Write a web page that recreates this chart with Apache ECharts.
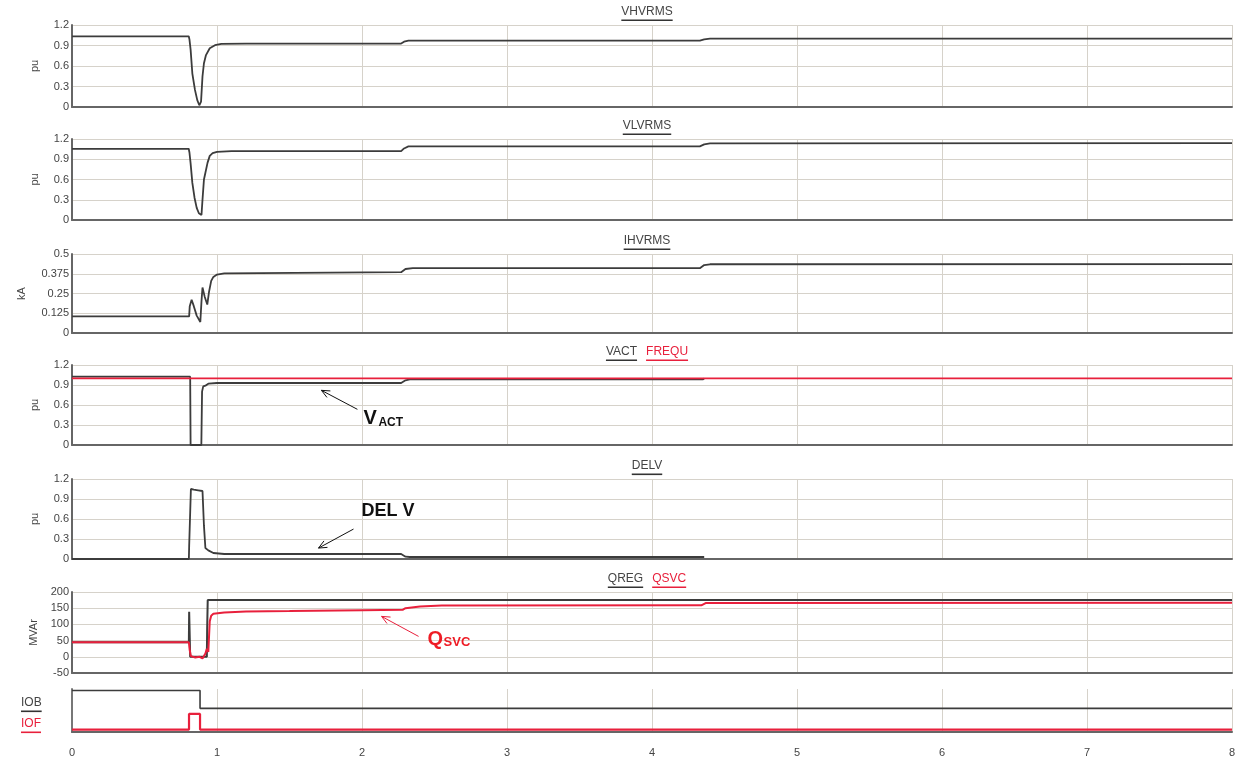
<!DOCTYPE html>
<html>
<head>
<meta charset="utf-8">
<script src="https://cdn.jsdelivr.net/npm/echarts@6/dist/echarts.min.js"></script>
<style>
  html, body { margin: 0; padding: 0; background: #ffffff; }
  #chart { width: 1239px; height: 760px; }
</style>
</head>
<body>
<div id="chart"></div>
<script>
// ---- Simulation traces: [time (s), value] ----
const VHVRMS = [[0,1.035],[0.805,1.035],[0.81,0.99],[0.818,0.84],[0.83,0.49],[0.848,0.25],[0.864,0.1],[0.878,0.025],[0.883,0.0],[0.89,0.08],[0.9,0.45],[0.91,0.64],[0.924,0.76],[0.95,0.86],[0.986,0.905],[1.03,0.925],[1.2,0.928],[2.27,0.928],[2.29,0.955],[2.32,0.97],[4.33,0.97],[4.36,0.99],[4.4,1.0],[8,1.0]];
const VLVRMS = [[0,1.055],[0.805,1.055],[0.81,1.0],[0.818,0.84],[0.83,0.55],[0.845,0.33],[0.86,0.18],[0.875,0.1],[0.885,0.08],[0.893,0.075],[0.9,0.3],[0.91,0.6],[0.92,0.7],[0.935,0.85],[0.95,0.95],[0.97,0.99],[1.0,1.01],[1.1,1.02],[2.27,1.02],[2.29,1.06],[2.32,1.09],[4.33,1.09],[4.36,1.12],[4.4,1.135],[8,1.14]];
const IHVRMS = [[0,0.105],[0.808,0.105],[0.812,0.17],[0.825,0.21],[0.84,0.17],[0.86,0.11],[0.885,0.07],[0.893,0.2],[0.9,0.288],[0.915,0.23],[0.933,0.18],[0.945,0.26],[0.96,0.33],[0.975,0.355],[1.0,0.37],[1.05,0.378],[2.27,0.385],[2.3,0.405],[2.35,0.41],[4.33,0.41],[4.36,0.43],[4.4,0.435],[8,0.436]];
const VACT = [[0,1.025],[0.815,1.025],[0.818,0],[0.892,0],[0.897,0.8],[0.905,0.88],[0.92,0.89],[0.94,0.92],[1.0,0.93],[2.27,0.93],[2.3,0.97],[2.33,0.985],[4.35,0.985],[4.36,0.995]];
const FREQU = [[0,1.0],[8,1.0]];
const DELV = [[0,0],[0.806,0],[0.808,0.19],[0.815,0.22],[0.82,1.05],[0.84,1.04],[0.87,1.03],[0.9,1.02],[0.91,0.5],[0.92,0.165],[0.94,0.13],[0.975,0.09],[1.05,0.075],[2.27,0.075],[2.3,0.035],[2.33,0.03],[4.36,0.03]];
const QREG = [[0,45],[0.806,45],[0.808,139],[0.812,60],[0.815,0],[0.93,0],[0.932,80],[0.936,175],[8,175]];
const QSVC = [[0,45],[0.806,45],[0.812,20],[0.82,2],[0.85,-2],[0.88,0],[0.9,-5],[0.91,-10],[0.92,10],[0.93,25],[0.94,15],[0.95,110],[0.96,127],[0.975,133],[1.05,137],[1.2,140],[1.5,141],[2.0,144],[2.28,145],[2.3,150],[2.4,155],[2.55,158],[4.34,159],[4.37,166],[8,167]];
const IOB = [[0,1],[0.883,1],[0.883,0],[8,0]];
const IOF = [[0,0],[0.807,0],[0.807,1],[0.883,1],[0.883,0],[8,0]];

// ---- Axis ticks ----
const TIME_TICKS = { min: 0, max: 8, step: 1 };
const PU_TICKS = { min: 0, max: 1.2, step: 0.3 };
const KA_TICKS = { min: 0, max: 0.5, step: 0.125 };
const MVAR_TICKS = { min: -50, max: 200, step: 50 };

// ---- Panel layout ----
const FONT = '"Liberation Sans", Arial, Helvetica, sans-serif';
const BLACK = '#3c3c3c';
const RED = '#e8203c';
const GRID_LINE = '#d6d2ca';
const PLOT_LEFT = 72, PLOT_RIGHT = 7, TITLE_CX = 647;

const panels = [
  { top: 25,  height: 82, unit: 'pu',   ticks: PU_TICKS,   gap: 32, titles: [['VHVRMS', BLACK]] },
  { top: 139, height: 81, unit: 'pu',   ticks: PU_TICKS,   gap: 32, titles: [['VLVRMS', BLACK]] },
  { top: 254, height: 79, unit: 'kA',   ticks: KA_TICKS,   gap: 45, titles: [['IHVRMS', BLACK]] },
  { top: 365, height: 80, unit: 'pu',   ticks: PU_TICKS,   gap: 32, titles: [['VACT', BLACK], ['FREQU', RED]] },
  { top: 479, height: 80, unit: 'pu',   ticks: PU_TICKS,   gap: 32, titles: [['DELV', BLACK]] },
  { top: 592, height: 81, unit: 'MVAr', ticks: MVAR_TICKS, gap: 29, titles: [['QREG', BLACK], ['QSVC', RED]] },
  { top: 689, height: 43 }
];

const grid = panels.map(p => ({ left: PLOT_LEFT, right: PLOT_RIGHT, top: p.top, height: p.height }));

const xAxis = panels.map((p, i) => ({
  gridIndex: i, type: 'value',
  min: TIME_TICKS.min, max: TIME_TICKS.max, interval: TIME_TICKS.step,
  axisLine: { show: true, onZero: false, lineStyle: { color: '#666', width: 2 } },
  axisTick: { show: false },
  axisLabel: { show: i === panels.length - 1, color: '#444', fontSize: 11, fontFamily: FONT, margin: 15 },
  splitLine: { show: true, lineStyle: { color: GRID_LINE, width: 1 } }
}));

const yAxis = panels.slice(0, 6).map((p, i) => ({
  gridIndex: i, type: 'value',
  min: p.ticks.min, max: p.ticks.max, interval: p.ticks.step,
  name: p.unit, nameLocation: 'middle', nameGap: p.gap,
  nameTextStyle: { color: '#444', fontSize: 11, fontFamily: FONT },
  axisLine: { show: true, onZero: false, lineStyle: { color: '#666', width: 2 } },
  axisTick: { show: false },
  axisLabel: { color: '#444', fontSize: 11, fontFamily: FONT, margin: 3 },
  splitLine: { show: true, lineStyle: { color: GRID_LINE, width: 1 } }
}));
// Logic signals share the last panel, each on its own scale so the traces sit apart.
yAxis.push({
  gridIndex: 6, type: 'value', min: -1.32, max: 1.08,
  axisLine: { show: true, onZero: false, lineStyle: { color: '#777', width: 2 } },
  axisTick: { show: false }, axisLabel: { show: false }, splitLine: { show: false }
});
yAxis.push({
  gridIndex: 6, type: 'value', min: -0.157, max: 2.6,
  axisLine: { show: false }, axisTick: { show: false }, axisLabel: { show: false }, splitLine: { show: false }
});

function trace(name, data, idx, yIdx, color, width) {
  return {
    name, type: 'line', data, xAxisIndex: idx, yAxisIndex: yIdx,
    showSymbol: false, symbol: 'none', animation: false, silent: true,
    lineStyle: { color, width }, z: color === RED ? 4 : 3
  };
}

const series = [
  trace('VHVRMS', VHVRMS, 0, 0, BLACK, 1.8),
  trace('VLVRMS', VLVRMS, 1, 1, BLACK, 1.8),
  trace('IHVRMS', IHVRMS, 2, 2, BLACK, 1.8),
  trace('FREQU', FREQU, 3, 3, RED, 1.8),
  trace('VACT', VACT, 3, 3, BLACK, 1.8),
  trace('DELV', DELV, 4, 4, BLACK, 1.8),
  trace('QREG', QREG, 5, 5, BLACK, 2),
  trace('QSVC', QSVC, 5, 5, RED, 2),
  trace('IOB', IOB, 6, 6, BLACK, 1.6),
  trace('IOF', IOF, 6, 7, RED, 2.2)
];

const chart = echarts.init(document.getElementById('chart'), null, { renderer: 'canvas' });
chart.setOption({ backgroundColor: '#ffffff', animation: false, grid, xAxis, yAxis, series });

// ---- Underlined panel titles ----
const measure = document.createElement('canvas').getContext('2d');
function textWidth(str, size, weight) {
  measure.font = (weight || 'normal') + ' ' + size + 'px ' + FONT;
  return measure.measureText(str).width;
}
function underlined(str, x, cy, color, size) {
  const w = textWidth(str, size);
  return [
    { type: 'text', left: x, top: cy - size / 2 - 1, silent: true,
      style: { text: str, fill: color === RED ? RED : '#444', font: size + 'px ' + FONT } },
    { type: 'rect', left: x, top: cy + size / 2 + 0.5, silent: true,
      shape: { width: w, height: 1.6 }, style: { fill: color === RED ? RED : '#333' } }
  ];
}

const graphic = [];
panels.slice(0, 6).forEach(p => {
  const size = 12, sep = 9;
  const widths = p.titles.map(t => textWidth(t[0], size));
  const total = widths.reduce((a, b) => a + b, 0) + sep * (p.titles.length - 1);
  let x = TITLE_CX - total / 2;
  p.titles.forEach((t, k) => {
    graphic.push(...underlined(t[0], x, p.top - 12, t[1], size));
    x += widths[k] + sep;
  });
});
graphic.push(...underlined('IOB', 21, 704, BLACK, 12));
graphic.push(...underlined('IOF', 21, 725, RED, 12));

// ---- Callouts pointing at traces ----
function arrow(tip, tail, color) {
  const dx = tip[0] - tail[0], dy = tip[1] - tail[1];
  const len = Math.hypot(dx, dy), ux = dx / len, uy = dy / len;
  const hl = 9, a = 0.42;
  const p1 = [tip[0] - hl * (ux * Math.cos(a) - uy * Math.sin(a)), tip[1] - hl * (uy * Math.cos(a) + ux * Math.sin(a))];
  const p2 = [tip[0] - hl * (ux * Math.cos(a) + uy * Math.sin(a)), tip[1] - hl * (uy * Math.cos(a) - ux * Math.sin(a))];
  return [
    { type: 'line', silent: true, shape: { x1: tail[0], y1: tail[1], x2: tip[0], y2: tip[1] }, style: { stroke: color, lineWidth: 1 } },
    { type: 'polyline', silent: true, shape: { points: [p1, tip, p2] }, style: { stroke: color, lineWidth: 1, fill: null } }
  ];
}
function label(str, x, baseY, size, color) {
  return { type: 'text', silent: true, x, y: baseY,
    style: { text: str, fill: color, font: 'bold ' + size + 'px ' + FONT, textVerticalAlign: 'bottom', textBaseline: 'bottom' } };
}

const tipV = chart.convertToPixel({ xAxisIndex: 3, yAxisIndex: 3 }, [1.72, 0.82]);
graphic.push(...arrow(tipV, [tipV[0] + 36, tipV[1] + 19], '#111'));
graphic.push(label('V', tipV[0] + 42, tipV[1] + 38, 20, '#111'));
graphic.push(label('ACT', tipV[0] + 57, tipV[1] + 38, 12, '#111'));

const tipD = chart.convertToPixel({ xAxisIndex: 4, yAxisIndex: 4 }, [1.70, 0.164]);
graphic.push(...arrow(tipD, [tipD[0] + 35, tipD[1] - 19], '#111'));
graphic.push(label('DEL V', tipD[0] + 43, tipD[1] - 28, 18, '#111'));

const tipQ = chart.convertToPixel({ xAxisIndex: 5, yAxisIndex: 5 }, [2.135, 124.7]);
graphic.push(...arrow(tipQ, [tipQ[0] + 37, tipQ[1] + 20], RED));
graphic.push(label('Q', tipQ[0] + 46, tipQ[1] + 33, 20, '#ee1c25'));
graphic.push(label('SVC', tipQ[0] + 62, tipQ[1] + 33, 13, '#ee1c25'));

chart.setOption({ graphic });
</script>
</body>
</html>
